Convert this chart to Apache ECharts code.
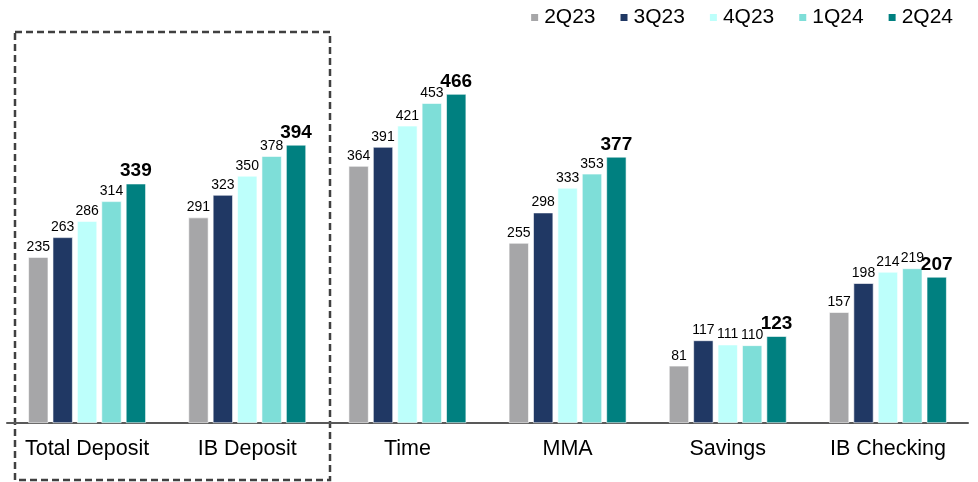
<!DOCTYPE html>
<html>
<head>
<meta charset="utf-8">
<script src="https://cdn.jsdelivr.net/npm/echarts@6/dist/echarts.min.js"></script>
<style>
  html, body { margin: 0; padding: 0; background: #fff; }
  #chart { width: 978px; height: 482px; }
</style>
</head>
<body>
<div id="chart"></div>
<script>
// Deposit categories and quarterly values
const categories = ['Total Deposit', 'IB Deposit', 'Time', 'MMA', 'Savings', 'IB Checking'];
const quarters = ['2Q23', '3Q23', '4Q23', '1Q24', '2Q24'];

const q2_23 = [235, 291, 364, 255, 81, 157];
const q3_23 = [263, 323, 391, 298, 117, 198];
const q4_23 = [286, 350, 421, 333, 111, 214];
const q1_24 = [314, 378, 453, 353, 110, 219];
const q2_24 = [339, 394, 466, 377, 123, 207];

const seriesValues = [q2_23, q3_23, q4_23, q1_24, q2_24];
const barColors = ['#A6A6A8', '#203864', '#BDFFFB', '#7EDED8', '#008080'];

const font = 'Arial, "Liberation Sans", sans-serif';
const chart = echarts.init(document.getElementById('chart'));

const series = seriesValues.map((vals, i) => {
    const last = i === seriesValues.length - 1;
    return {
        name: quarters[i],
        type: 'bar',
        data: vals,
        barWidth: 20,
        barGap: '22%',
        itemStyle: { color: barColors[i], borderColor: '#ffffff', borderWidth: 0.6 },
        label: {
            show: true,
            position: 'top',
            distance: 3,
            color: '#000',
            fontFamily: font,
            fontSize: last ? 19 : 14,
            fontWeight: last ? 'bold' : 'normal'
        },
        animation: false
    };
});

const option = {
    backgroundColor: '#ffffff',
    textStyle: { fontFamily: font },
    legend: {
        data: quarters,
        right: 20,
        top: 2,
        itemWidth: 9,
        itemHeight: 9,
        itemGap: 23,
        icon: 'rect',
        textStyle: { fontSize: 21, color: '#000', fontFamily: font }
    },
    grid: { left: 7, right: 10, top: 70, bottom: 59, containLabel: false },
    xAxis: {
        type: 'category',
        data: categories,
        axisLine: { lineStyle: { color: '#595959', width: 2 } },
        axisTick: { show: false },
        axisLabel: { color: '#000', fontSize: 21.5, fontFamily: font, margin: 15, interval: 0 }
    },
    yAxis: {
        type: 'value',
        min: 0,
        max: 500,
        show: false,
        splitLine: { show: false }
    },
    graphic: [{
        type: 'rect',
        shape: { x: 15, y: 32, width: 315, height: 448 },
        style: { fill: 'none', stroke: '#404040', lineWidth: 2.5, lineDash: [7, 4] },
        silent: true
    }],
    series: series
};

chart.setOption(option);
</script>
</body>
</html>
